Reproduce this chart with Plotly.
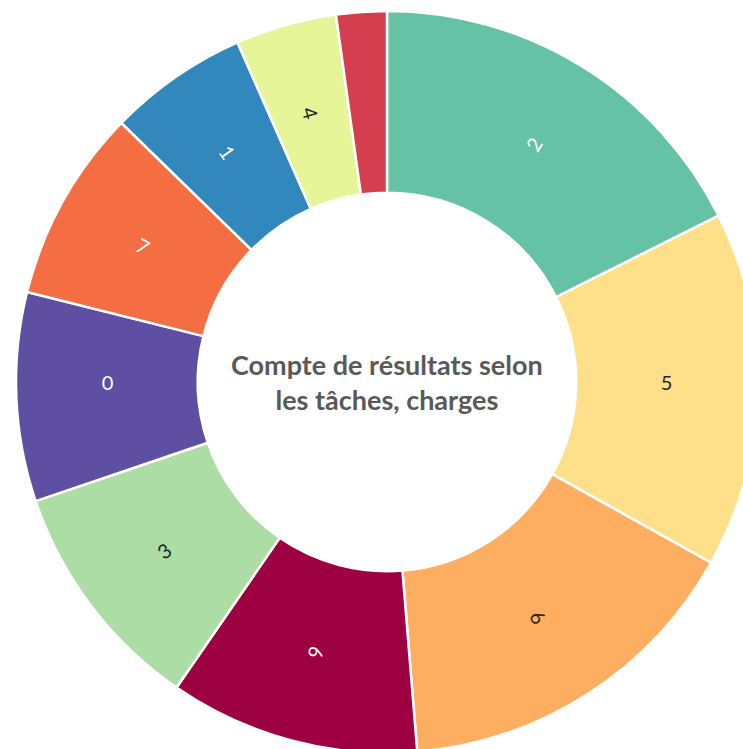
import plotly.graph_objects as go

labels = ["2", "5", "6", "9", "3", "0", "7", "1", "4", "8"]
values = [17.6, 15.5, 15.6, 10.9, 10.2, 9.1, 8.4, 6.1, 4.4, 2.2]
colors = ["#66c2a5", "#fee08b", "#fdae61", "#9e0142", "#abdda4",
          "#5e4fa2", "#f46d43", "#3288bd", "#e6f598", "#d53e4f"]
text_colors = ["white", "#262626", "#262626", "white", "#262626",
               "white", "white", "white", "#262626", "white"]
title_text = "Compte de résultats selon<br>les tâches, charges"

total = sum(values)
shown = [lab if v / total > 0.03 else "" for lab, v in zip(labels, values)]

W, H = 774, 753
MT = 11
PW, PH = W, H - MT
R = min(PW, PH) / 2
R_IN = 0.51 * R
R_MID = (R + R_IN) / 2
R2_OUT = R_MID + 13
R2_IN = R_MID - 13
fx = R2_OUT / PW
fy = R2_OUT / PH

fig = go.Figure()
fig.add_trace(go.Pie(
    labels=labels,
    values=values,
    textinfo="none",
    hole=0.51,
    sort=False,
    direction="clockwise",
    rotation=0,
    marker=dict(colors=colors, line=dict(color="white", width=2.5)),
    hoverinfo="label+percent",
    showlegend=False,
))
fig.add_trace(go.Pie(
    labels=labels,
    values=values,
    text=shown,
    textinfo="text",
    textposition="inside",
    insidetextorientation="radial",
    hole=R2_IN / R2_OUT,
    sort=False,
    direction="clockwise",
    rotation=0,
    domain=dict(x=[0.5 - fx, 0.5 + fx], y=[0.5 - fy, 0.5 + fy]),
    marker=dict(colors=["rgba(0,0,0,0)"] * len(labels), line=dict(width=0)),
    textfont=dict(family="Lato", size=20, color=text_colors),
    hoverinfo="skip",
    showlegend=False,
))

fig.add_annotation(
    x=0.5, y=0.5, xref="paper", yref="paper",
    text="<b>" + title_text + "</b>",
    showarrow=False,
    font=dict(family="Lato", size=27, color="#595959"),
    align="center",
)

fig.update_layout(
    width=W, height=H,
    margin=dict(l=0, r=0, t=MT, b=0),
    paper_bgcolor="white",
    plot_bgcolor="white",
)

fig.write_html(
    "out.html",
    post_script="document.body.style.margin='0';document.body.style.overflow='hidden';",
    config={"displayModeBar": False},
)
